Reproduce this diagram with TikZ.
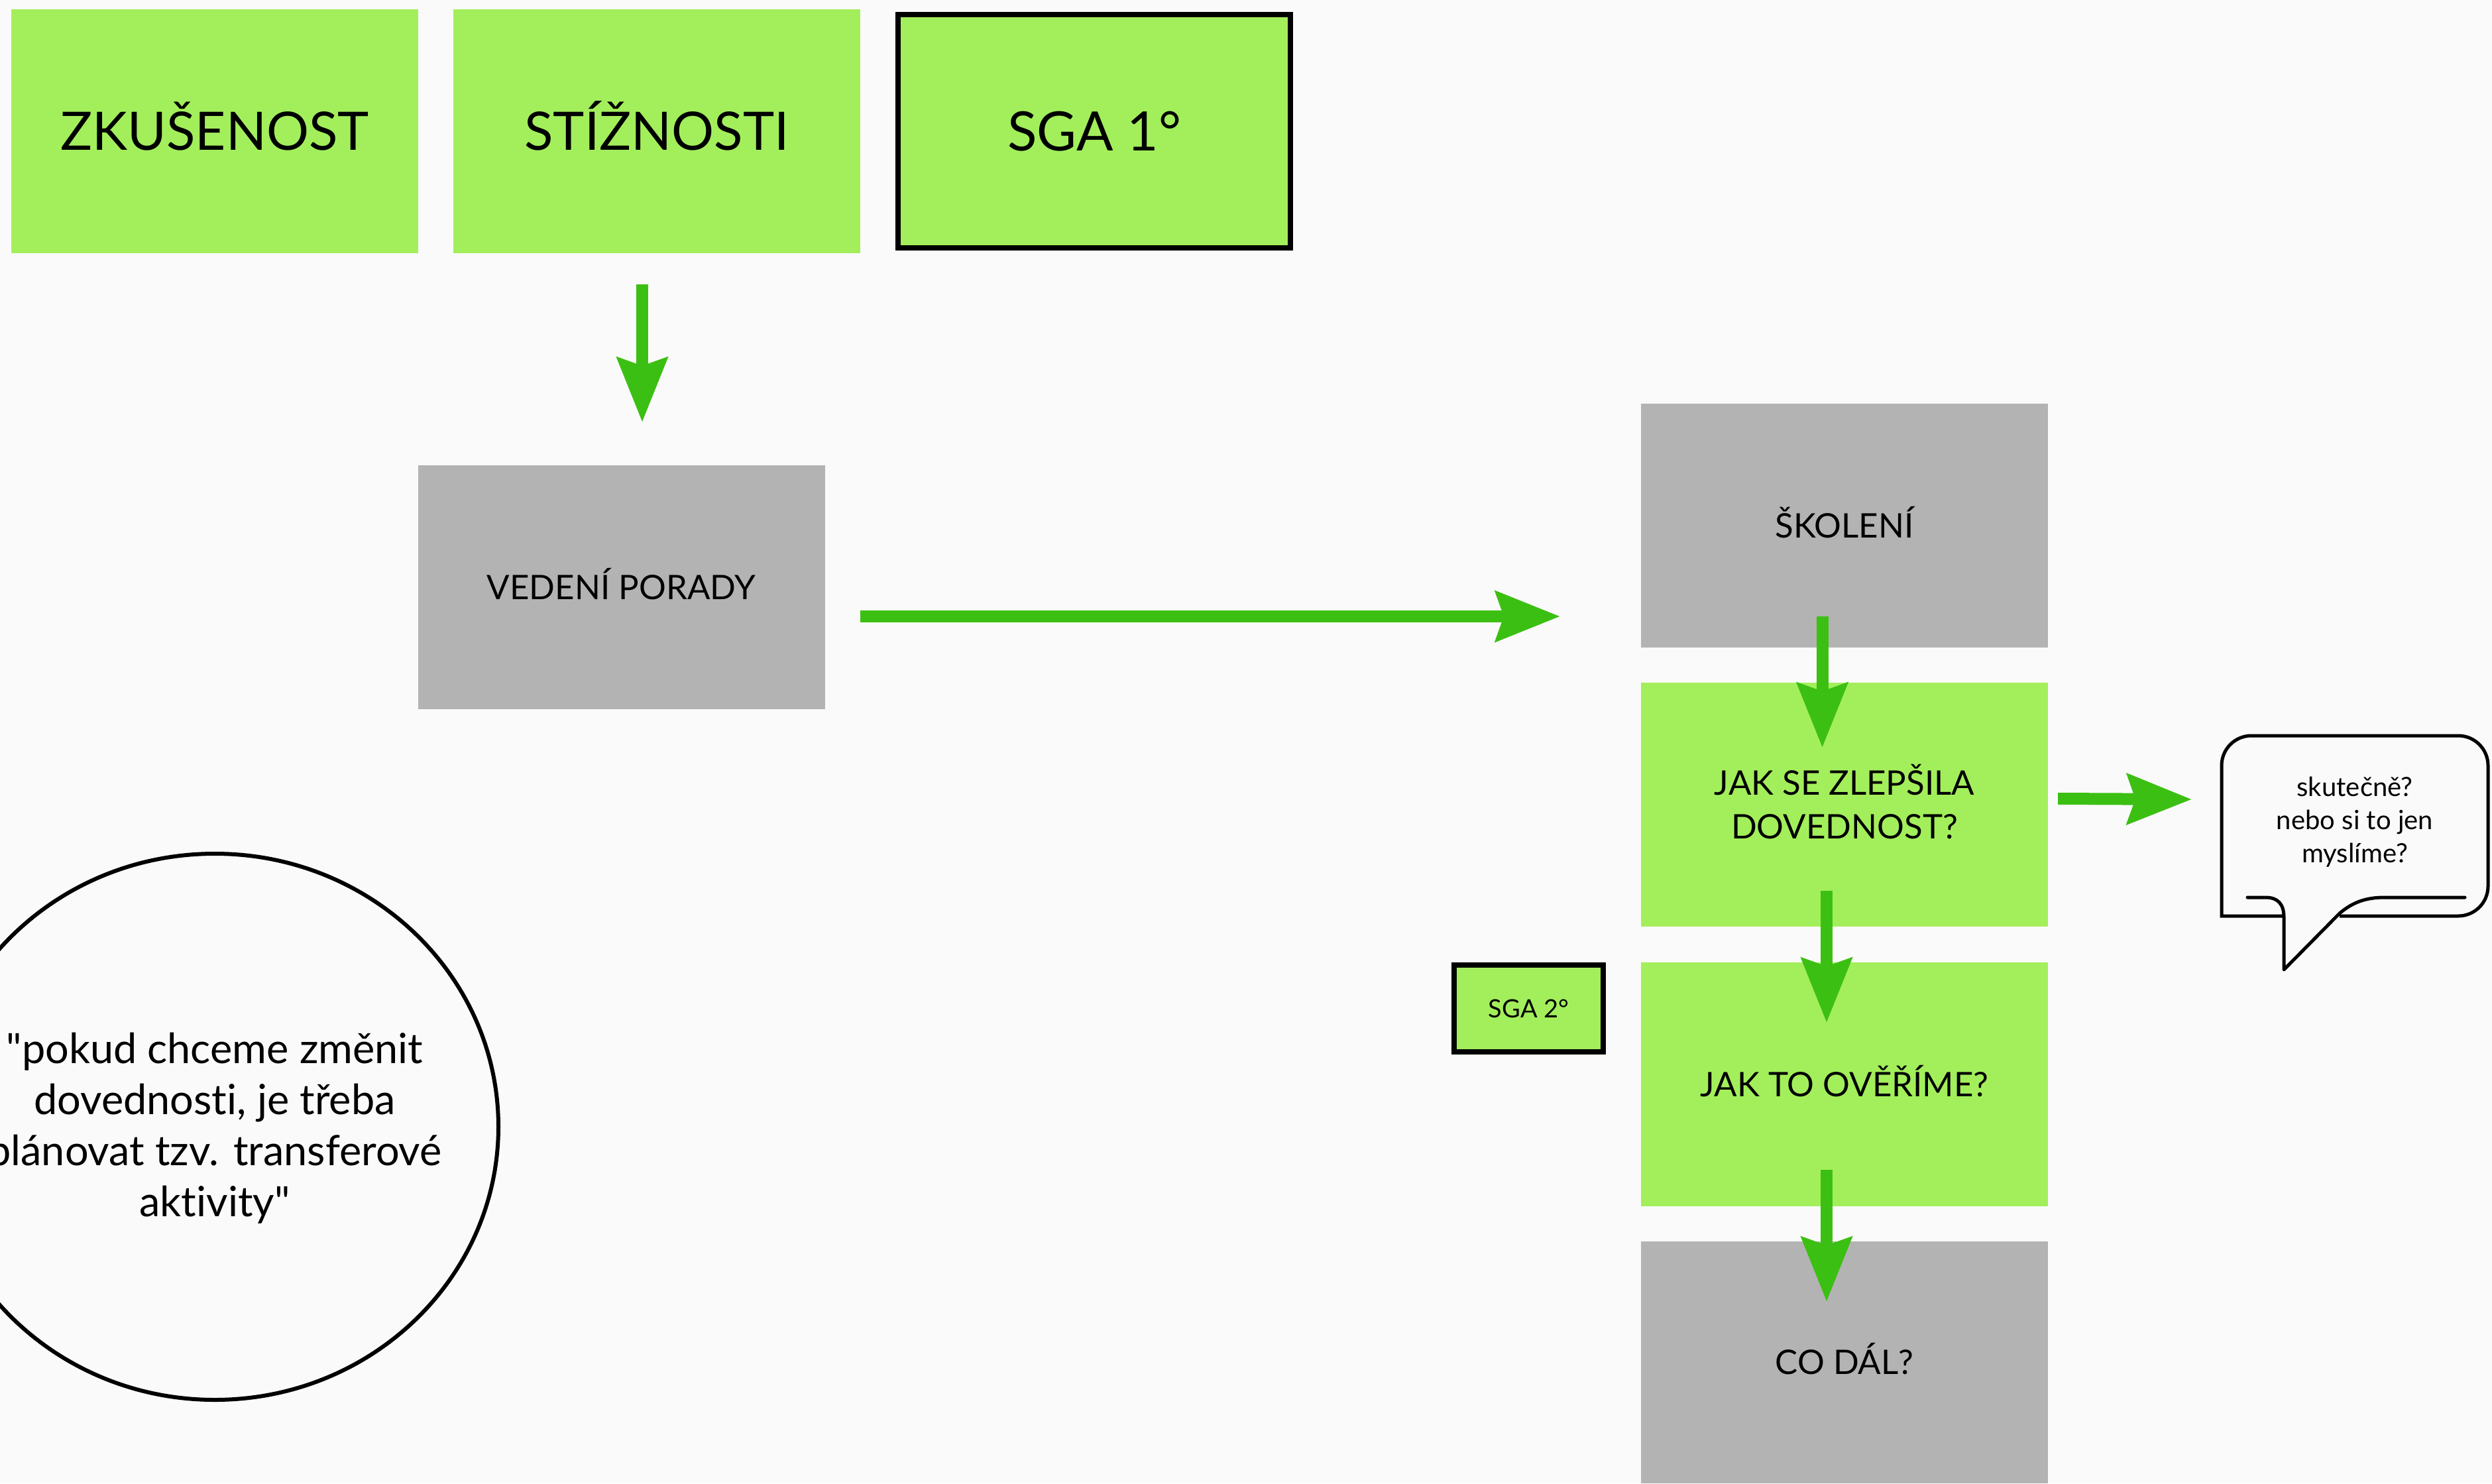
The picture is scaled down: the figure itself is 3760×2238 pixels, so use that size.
\documentclass[tikz,border=0pt]{standalone}
\usepackage{fontspec}
\setmainfont{Lato}[Ligatures={TeXOff,CommonOff}]
\usetikzlibrary{arrows.meta,calc}
\definecolor{bg}{HTML}{FAFAFA}
\definecolor{lgreen}{HTML}{A3EF5B}
\definecolor{agreen}{HTML}{3CBF13}
\definecolor{lgray}{HTML}{B3B3B3}
\begin{document}
\begin{tikzpicture}[x=1pt,y=-1pt,
  box/.style={rectangle, inner sep=0pt, outer sep=0pt, align=center, text=black,
    minimum width=614pt, minimum height=368pt},
  greenbox/.style={box, fill=lgreen},
  graybox/.style={box, fill=lgray},
  framed/.style={rectangle, inner sep=0pt, outer sep=0pt, align=center, fill=lgreen, draw=black, line width=8pt},
  bigtext/.style={font=\fontsize{80}{96}\selectfont, text height=57.3pt, text depth=0pt},
  midtext/.style={font=\fontsize{51}{66}\selectfont, text height=36.5pt, text depth=0pt},
  flow/.style={draw=agreen, line width=18pt, -{Stealth[length=97pt,width=75pt,inset=12pt]}},
  bubble/.style={draw=black, line width=5pt},
]
\fill[bg] (0,0) rectangle (3760,2238);
\useasboundingbox (0,0) rectangle (3760,2238);

% top row
\node[greenbox, bigtext] (zk) at (324,198) {ZKUŠENOST};
\node[greenbox, bigtext] (st) at (991,198) {STÍŽNOSTI};
\node[framed, minimum width=592pt, minimum height=352pt, font=\fontsize{82}{100}\selectfont,
  text height=58.8pt, text depth=0pt] (sga1) at (1651,198) {SGA 1°};

% left gray box
\node[graybox, midtext] (vp) at (937.5,886) {VEDENÍ PORADY};

% right column
\node[graybox, midtext] (sk) at (2783,793) {ŠKOLENÍ};
\node[greenbox, midtext, text height=102.5pt] (j1) at (2783,1214) {JAK SE ZLEPŠILA\\DOVEDNOST?};
\node[greenbox, midtext] (j2) at (2783,1636) {JAK TO OVĚŘÍME?};
\node[graybox, midtext, minimum height=365pt] (cd) at (2783,2055.5) {CO DÁL?};
\node[framed, minimum width=225pt, minimum height=131pt, font=\fontsize{38}{46}\selectfont,
  text height=27.2pt, text depth=0pt] (sga2) at (2306.5,1521.5) {SGA 2°};

% quote ellipse
\node[align=center, inner sep=0pt, anchor=base, font=\fontsize{63}{77}\selectfont] (quote) at (324,1835)
  {"pokud chceme změnit\\dovednosti, je třeba\\plánovat tzv. transferové\\aktivity"};
\draw[line width=6pt] (324,1700) ellipse [x radius=428pt, y radius=412pt];

% speech bubble
\draw[bubble] (3446,1382) -- (3352,1382) [rounded corners=45pt] -- (3352,1110) -- (3754,1110) -- (3754,1382) [sharp corners] -- (3530,1382);
\draw[bubble, line cap=round, line join=round]
  (3391,1354) -- (3418,1354) .. controls (3437,1354) and (3446,1364) .. (3446,1384)
  -- (3446,1463) -- (3530,1378) .. controls (3550,1361) and (3570,1354) .. (3598,1354) -- (3719,1354);
\node[align=center, inner sep=0pt, anchor=base, font=\fontsize{40}{50}\selectfont] (bub) at (3553,1301)
  {skutečně?\\nebo si to jen\\myslíme?};
\coordinate (bubin) at (3307,1206);

% connectors
\draw[flow] ($(st.south)+(-22,47)$) -- ($(vp.north)+(31.5,-65)$);
\draw[flow] ($(vp.east)+(53,44)$) -- ($(sk.west)+(-122,137)$);
\draw[flow] ($(sk.south)+(-33.5,-47)$) -- ($(j1.north)+(-33.5,98)$);
\draw[flow] ($(j1.south)+(-27,-54)$) -- ($(j2.north)+(-27,91)$);
\draw[flow] ($(j2.south)+(-27,-55)$) -- ($(cd.north)+(-27,91)$);
\draw[flow] ($(j1.east)+(15,-9)$) -- (bubin);
\end{tikzpicture}
\end{document}
